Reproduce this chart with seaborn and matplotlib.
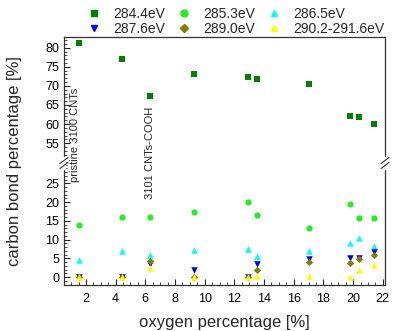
import numpy as np
import pandas as pd
import matplotlib
matplotlib.use("Agg")
import matplotlib.pyplot as plt
import seaborn as sns
from matplotlib.lines import Line2D
from matplotlib.ticker import MultipleLocator

oxygen = [1.5, 4.4, 6.3, 9.3, 12.9, 13.5, 17.0, 19.8, 20.4, 21.4]
series_names = ["284.4eV", "285.3eV", "286.5eV", "287.6eV", "289.0eV", "290.2-291.6eV"]
c284 = [81.3, 77.0, 67.4, 73.1, 72.3, 71.9, 70.5, 62.1, 61.9, 59.9]
c285 = [14.0, 15.9, 16.1, 17.3, 19.9, 16.5, 13.2, 19.6, 15.7, 15.7]
c286 = [4.5, 6.9, 5.8, 7.1, 7.5, 5.5, 7.0, 9.1, 10.3, 8.3]
c287 = [0.0, 0.0, 3.6, 2.0, 0.0, 3.6, 4.8, 5.1, 5.0, 6.8]
c289 = [0.0, 0.0, 4.4, 0.0, 0.0, 2.0, 4.0, 3.7, 4.9, 6.0]
c290 = [0.0, 0.0, 2.3, 0.0, 0.0, 0.2, 0.2, 0.0, 1.9, 3.2]
annotations = ["pristine 3100 CNTs", "3101 CNTs-COOH"]

colors = ["#008000", "#22ee22", "#00ffff", "#0000ff", "#808000", "#ffff00"]
markers = ["s", "o", "^", "v", "D", "^"]
sizes = [14, 20, 22, 22, 14, 22]

rows = []
for name, vals in zip(series_names, [c284, c285, c286, c287, c289, c290]):
    for xv, yv in zip(oxygen, vals):
        rows.append({"oxygen": xv, "value": yv, "series": name})
df = pd.DataFrame(rows)

sns.set_style("ticks")
plt.rcParams["font.family"] = ["Liberation Sans", "DejaVu Sans"]

fig = plt.figure(figsize=(3.94, 3.31), dpi=100)
L, R = 64 / 394, 385 / 394
top_px, brk_px, bot_px = 37, 163, 285
ax_hi = fig.add_axes([L, 1 - brk_px / 331, R - L, (brk_px - top_px) / 331])
ax_lo = fig.add_axes([L, 1 - bot_px / 331, R - L, (bot_px - brk_px) / 331])

for ax in (ax_hi, ax_lo):
    for name, col, mk, sz in zip(series_names, colors, markers, sizes):
        sub = df[df["series"] == name]
        sns.scatterplot(data=sub, x="oxygen", y="value", color=col, marker=mk,
                        s=sz, linewidth=0, ax=ax, legend=False, zorder=3)
    ax.set_xlim(0.52, 22.15)
    ax.set_xlabel("")
    ax.set_ylabel("")
    ax.xaxis.set_major_locator(MultipleLocator(2))
    ax.xaxis.set_minor_locator(MultipleLocator(0.5))
    ax.yaxis.set_major_locator(MultipleLocator(5))
    ax.yaxis.set_minor_locator(MultipleLocator(1))
    ax.tick_params(which="both", direction="in", right=False, top=False,
                   labelsize=9, colors="#222222", labelcolor="black")
    ax.tick_params(which="major", length=4, width=0.8)
    ax.tick_params(which="minor", length=2, width=0.6)
    for sp in ax.spines.values():
        sp.set_color("#333333")
        sp.set_linewidth(0.9)

ax_hi.set_ylim(49.8, 82.8)
ax_hi.set_yticks([55, 60, 65, 70, 75, 80])
ax_hi.spines["bottom"].set_visible(False)
ax_hi.tick_params(axis="x", which="both", bottom=False, labelbottom=False)

ax_lo.set_ylim(-2.1, 30.4)
ax_lo.set_yticks([0, 5, 10, 15, 20, 25])
ax_lo.spines["top"].set_visible(False)
ax_lo.tick_params(axis="x", pad=6)

# break marks
W, H = (R - L) * 394, (bot_px - brk_px)
for xa in (0, 1):
    for off in (-2.5, 2.5):
        ax_lo.plot([xa - 4 / W, xa + 4 / W], [1 + (off - 3) / H, 1 + (off + 3) / H],
                   transform=ax_lo.transAxes, color="#333333", lw=0.8, clip_on=False, zorder=5)
    ax_lo.plot([xa, xa], [1 - 5 / H, 1 + 5 / H], transform=ax_lo.transAxes,
               color="white", lw=2.5, clip_on=False, zorder=4)

fig.text(15 / 394, 1 - 161 / 331, "carbon bond percentage [%]", rotation=90,
         ha="center", va="center", fontsize=12)
fig.text((L + R) / 2, 1 - 322 / 331, "oxygen percentage [%]", ha="center",
         va="center", fontsize=12)
fig.text(75 / 394, 1 - 135 / 331, annotations[0], rotation=90, ha="center",
         va="center", fontsize=8)
fig.text(150 / 394, 1 - 152.5 / 331, annotations[1], rotation=90, ha="center",
         va="center", fontsize=8)

order = [0, 3, 1, 4, 2, 5]
handles = [Line2D([], [], linestyle="none", marker=markers[i], color=colors[i],
                  markersize=4.0 if markers[i] in ("s", "D") else 5) for i in order]
labels = [series_names[i] for i in order]
fig.legend(handles, labels, ncol=3, loc="upper left", bbox_to_anchor=(88.5 / 394, 1 - 7 / 331),
           frameon=False, fontsize=10, handlelength=0.8, handletextpad=1.0,
           columnspacing=0.95, labelspacing=0.05, borderaxespad=0, borderpad=0)

fig.savefig("out.png", dpi=100)
